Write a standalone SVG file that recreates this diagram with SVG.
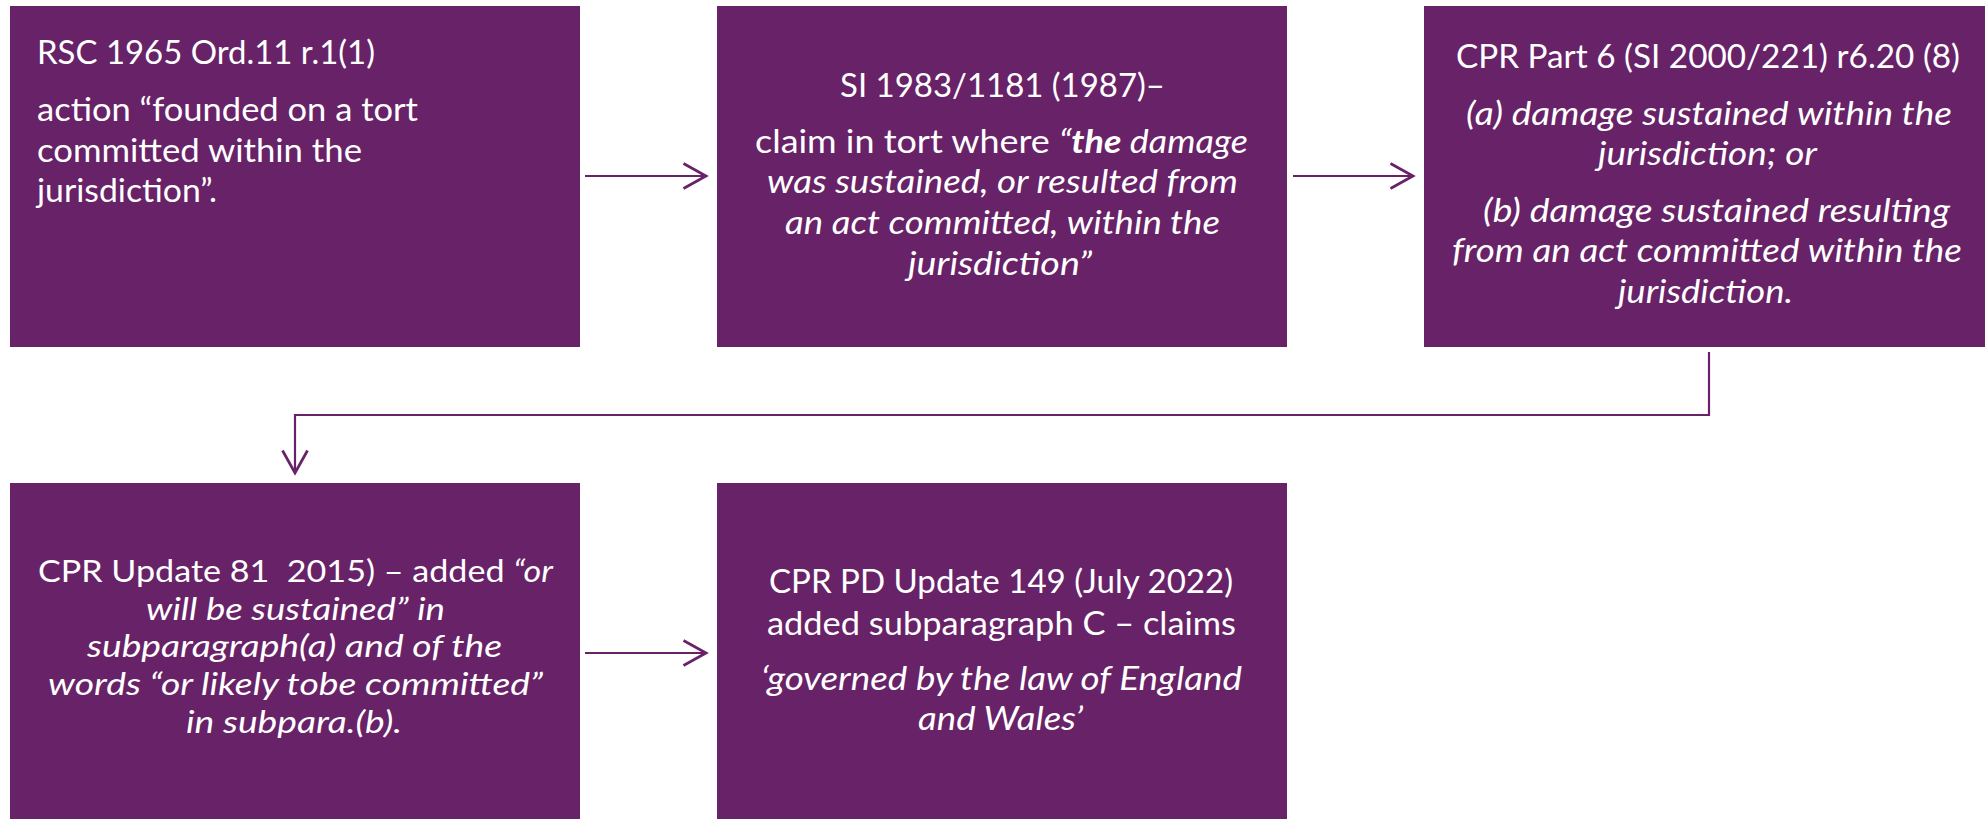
<svg xmlns="http://www.w3.org/2000/svg" width="1985" height="819" viewBox="0 0 1985 819">
<style>
.box{fill:#682268}
.t{font-family:Lato,"Open Sans","Liberation Sans",sans-serif;font-size:33px;fill:#ffffff}
.i{font-style:italic}
.b{font-weight:bold}
.s{font-size:31px}
.conn{fill:none;stroke:#682268;stroke-width:2.2}
</style>
<defs>
<marker id="arr" markerUnits="userSpaceOnUse" markerWidth="30" markerHeight="30" viewBox="-20 -12 22 24" refX="0" refY="0" orient="auto">
<path d="M-18,-10 L0,0 L-18,10" fill="none" stroke="#682268" stroke-width="2.2"/>
</marker>
</defs>
<rect width="1985" height="819" fill="#ffffff"/>
<g id="connectors">
<path class="conn" d="M585,176 L706,176" marker-end="url(#arr)"/>
<path class="conn" d="M1293,176 L1413,176" marker-end="url(#arr)"/>
<path class="conn" d="M1709,352 V415 H295 V473" marker-end="url(#arr)"/>
<path class="conn" d="M585,653 L706,653" marker-end="url(#arr)"/>
</g>
<g id="node1">
<rect class="box" x="10" y="6" width="570" height="341"/>
<text class="t" x="37" y="64" textLength="338" lengthAdjust="spacingAndGlyphs">RSC 1965 Ord.11 r.1(1)</text>
<text class="t" x="37" y="121" textLength="381" lengthAdjust="spacingAndGlyphs">action “founded on a tort</text>
<text class="t" x="37" y="162" textLength="325" lengthAdjust="spacingAndGlyphs">committed within the</text>
<text class="t" x="37" y="202" textLength="180" lengthAdjust="spacingAndGlyphs">jurisdiction”.</text>
</g>
<g id="node2">
<rect class="box" x="717" y="6" width="570" height="341"/>
<text class="t" x="840" y="97" textLength="325" lengthAdjust="spacingAndGlyphs">SI 1983/1181 (1987)–</text>
<text class="t" x="755" y="153" textLength="493" lengthAdjust="spacingAndGlyphs">claim in tort where <tspan class="i">“</tspan><tspan class="i b">the</tspan><tspan class="i"> damage</tspan></text>
<text class="t i" x="767" y="193" textLength="471" lengthAdjust="spacingAndGlyphs">was sustained, or resulted from</text>
<text class="t i" x="785" y="234" textLength="435" lengthAdjust="spacingAndGlyphs">an act committed, within the</text>
<text class="t i" x="908" y="275" textLength="184" lengthAdjust="spacingAndGlyphs">jurisdiction”</text>
</g>
<g id="node3">
<rect class="box" x="1424" y="6" width="570" height="341"/>
<text class="t" x="1456" y="68" textLength="504" lengthAdjust="spacingAndGlyphs">CPR Part 6 (SI 2000/221) r6.20 (8)</text>
<text class="t i" x="1466" y="125" textLength="486" lengthAdjust="spacingAndGlyphs">(a) damage sustained within the</text>
<text class="t i" x="1598" y="165" textLength="219" lengthAdjust="spacingAndGlyphs">jurisdiction; or</text>
<text class="t i" x="1483" y="222" textLength="467" lengthAdjust="spacingAndGlyphs">(b) damage sustained resulting</text>
<text class="t i" x="1452" y="262" textLength="510" lengthAdjust="spacingAndGlyphs">from an act committed within the</text>
<text class="t i" x="1618" y="303" textLength="175" lengthAdjust="spacingAndGlyphs">jurisdiction.</text>
</g>
<g id="node4">
<rect class="box" x="10" y="483" width="570" height="340"/>
<text class="t s" x="38" y="582" textLength="515" lengthAdjust="spacingAndGlyphs">CPR Update 81&#160; 2015) – added <tspan class="i">“or</tspan></text>
<text class="t s i" x="146" y="620" textLength="299" lengthAdjust="spacingAndGlyphs">will be sustained” in</text>
<text class="t s i" x="87" y="657" textLength="415" lengthAdjust="spacingAndGlyphs">subparagraph(a) and of the</text>
<text class="t s i" x="48" y="695" textLength="495" lengthAdjust="spacingAndGlyphs">words “or likely tobe committed”</text>
<text class="t s i" x="186" y="733" textLength="216" lengthAdjust="spacingAndGlyphs">in subpara.(b).</text>
</g>
<g id="node5">
<rect class="box" x="717" y="483" width="570" height="340"/>
<text class="t" x="769" y="593" textLength="464" lengthAdjust="spacingAndGlyphs">CPR PD Update 149 (July 2022)</text>
<text class="t" x="767" y="635" textLength="469" lengthAdjust="spacingAndGlyphs">added subparagraph C – claims</text>
<text class="t i" x="761" y="690" textLength="481" lengthAdjust="spacingAndGlyphs">‘governed by the law of England</text>
<text class="t i" x="918" y="730" textLength="165" lengthAdjust="spacingAndGlyphs">and Wales’</text>
</g>
</svg>
